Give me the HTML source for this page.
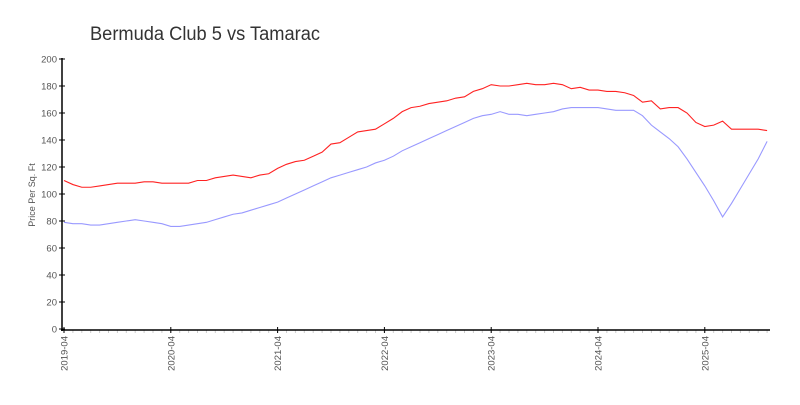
<!DOCTYPE html>
<html><head><meta charset="utf-8"><style>
body{margin:0;background:#fff;width:800px;height:400px;overflow:hidden}
svg{font-family:"Liberation Sans",sans-serif}
</style></head><body>
<svg id="c" width="800" height="400">
<text x="90" y="40" font-size="19" fill="#333" textLength="230" lengthAdjust="spacingAndGlyphs">Bermuda Club 5 vs Tamarac</text>
<text transform="translate(35,195) rotate(-90)" text-anchor="middle" font-size="9" fill="#555">Price Per Sq. Ft</text>
<g id="g"></g>
</svg>
<script>
const startYear=2019,startMonth=4;
const yTicks=[0,20,40,60,80,100,120,140,160,180,200];
const xTickLabels=["2019-04","2020-04","2021-04","2022-04","2023-04","2024-04","2025-04"];
const bermuda=[110,107,105,105,106,107,108,108,108,109,109,108,108,108,108,110,110,112,113,114,113,112,114,115,119,122,124,125,128,131,137,138,142,146,147,148,152,156,161,164,165,167,168,169,171,172,176,178,181,180,180,181,182,181,181,182,181,178,179,177,177,176,176,175,173,168,169,163,164,164,160,153,150,151,154,148,148,148,148,147];
const tamarac=[79,78,78,77,77,78,79,80,81,80,79,78,76,76,77,78,79,81,83,85,86,88,90,92,94,97,100,103,106,109,112,114,116,118,120,123,125,128,132,135,138,141,144,147,150,153,156,158,159,161,159,159,158,159,160,161,163,164,164,164,164,163,162,162,162,158,151,146,141,135,126,116,106,95,83,93,104,115,126,139];
const NS="http://www.w3.org/2000/svg";
const g=document.getElementById('g');
const X0=64,PX=8.9,Y0=329,PY=1.35;
const xs=i=>X0+i*PX, ys=v=>Y0-v*PY;
function mk(t,a){const e=document.createElementNS(NS,t);for(const k in a)e.setAttribute(k,a[k]);g.appendChild(e);return e;}
const n=bermuda.length;
for(let i=0;i<n;i++){const l=mk('line',{x1:xs(i),x2:xs(i),y1:330,y2:333,stroke:'#ccc','stroke-width':1});

}
const ya=mk('line',{x1:62,x2:62,y1:58,y2:331,stroke:'#000','stroke-width':1.5});


const xa=mk('line',{x1:61,x2:770,y1:330,y2:330,stroke:'#000','stroke-width':1.5});


yTicks.forEach(v=>{const y=ys(v);
const t=mk('line',{x1:59,x2:65,y1:y,y2:y,stroke:'#000','stroke-width':1});


const tx=mk('text',{x:57,y:y+3.5,'text-anchor':'end','font-size':9.5,fill:'#555'});tx.textContent=v;

});
xTickLabels.forEach(s=>{const [yy,mm]=s.split('-').map(Number);const i=(yy-startYear)*12+(mm-startMonth);const x=xs(i);
const t=mk('line',{x1:x,x2:x,y1:327,y2:333,stroke:'#000','stroke-width':1});


const tx=mk('text',{transform:`translate(${x+3.5},336) rotate(-90)`,'text-anchor':'end','font-size':9.5,fill:'#555'});tx.textContent=s;

});
function line(d,c,name){const p=mk('polyline',{points:d.map((v,i)=>xs(i)+','+ys(v)).join(' '),fill:'none',stroke:c,'stroke-width':1.1});

}
line(tamarac,'#9999ff','tamarac-line');
line(bermuda,'#ff2222','bermuda-club-line');
</script>
</body></html>
